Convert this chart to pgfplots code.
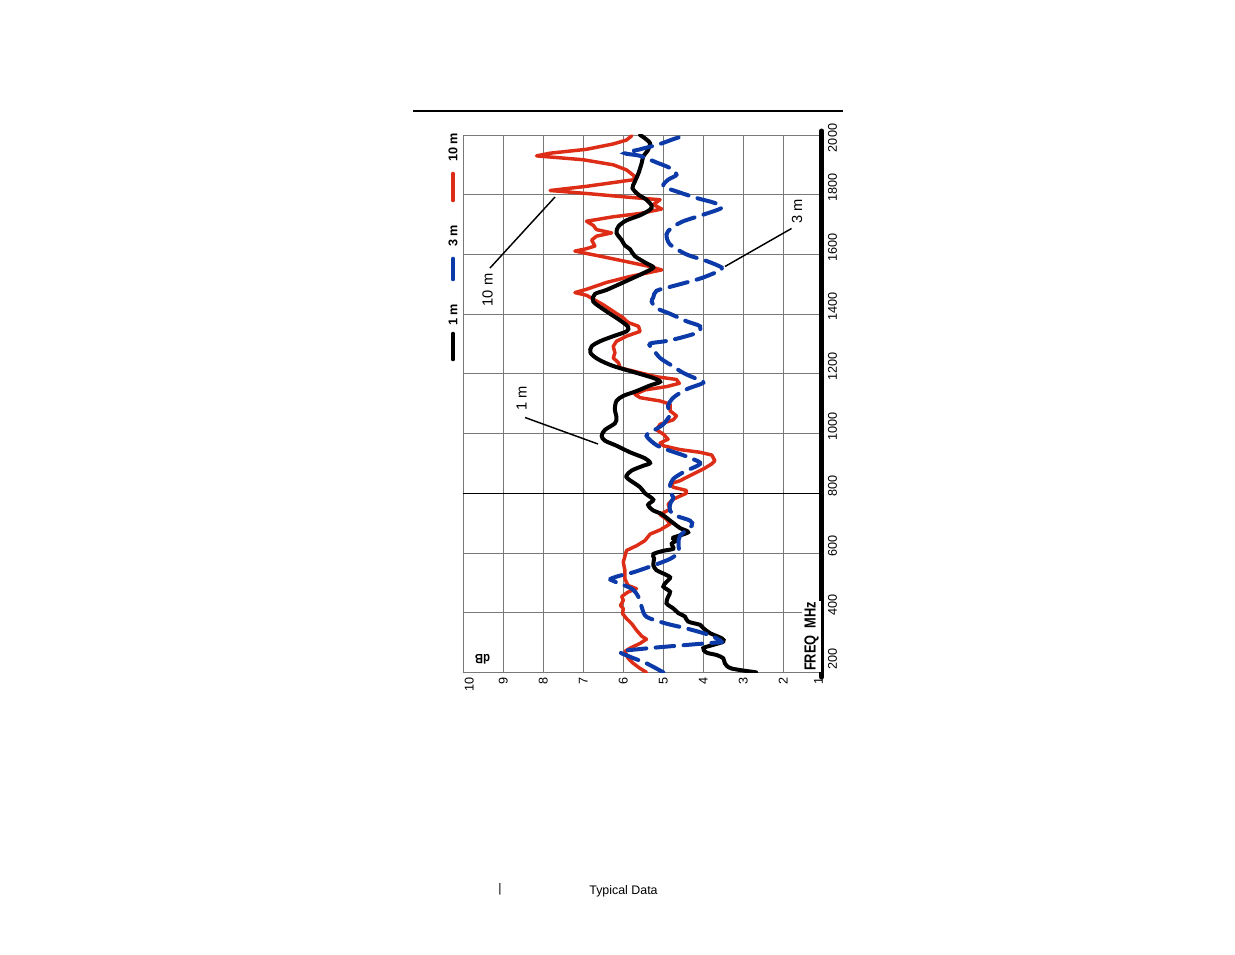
\documentclass[border=0pt]{standalone}
\usepackage{fontspec}
\setmainfont{Liberation Sans}
\usepackage{pgfplots}
\usepackage{pgfplotstable}
\pgfplotsset{compat=1.18}

\definecolor{tenm}{RGB}{222,45,22}
\definecolor{threem}{RGB}{12,58,168}
\definecolor{gridgray}{RGB}{120,120,120}

% f = frequency (MHz), d = level (dB)
\pgfplotstableread{
f d
200 2.68
213 3.30
230 3.46
247 3.50
258 3.67
266 3.92
281 4.00
292 3.75
303 3.50
314 3.54
331 3.83
348 4.00
359 4.08
370 4.38
387 4.46
398 4.62
414 4.75
431 4.92
453 4.88
470 4.83
487 5.00
503 4.92
518 4.83
531 5.00
542 5.17
559 5.25
581 5.23
596 5.25
607 5.00
614 4.75
631 4.79
642 4.67
651 4.75
669 4.38
683 4.58
700 4.75
722 4.96
733 5.08
742 5.25
761 5.38
778 5.25
800 5.46
820 5.58
848 5.88
859 5.92
876 5.79
892 5.50
901 5.33
917 5.46
937 5.83
959 6.17
976 6.46
992 6.54
1012 6.46
1034 6.21
1053 6.17
1081 6.21
1109 6.17
1126 6.00
1142 5.67
1161 5.33
1173 5.08
1186 5.25
1203 5.67
1226 6.25
1248 6.62
1270 6.82
1292 6.79
1309 6.58
1326 6.25
1342 5.92
1357 5.88
1379 6.08
1409 6.42
1442 6.75
1467 6.71
1481 6.42
1511 5.92
1537 5.50
1556 5.25
1570 5.42
1594 5.71
1617 5.83
1630 5.96
1648 6.04
1672 6.17
1694 6.12
1714 5.92
1731 5.58
1750 5.33
1763 5.29
1783 5.42
1800 5.62
1822 5.77
1844 5.71
1872 5.62
1906 5.54
1928 5.50
1950 5.38
1972 5.33
1989 5.46
2000 5.58
}\onem

\pgfplotstableread{
f d
200 5.00
230 5.42
252 5.83
269 6.08
278 5.58
288 4.75
299 3.75
302 3.54
324 3.83
347 4.42
363 4.92
386 5.42
419 5.54
452 5.62
480 5.79
506 6.25
513 6.32
524 6.08
535 5.75
558 5.25
580 4.83
602 4.62
630 4.62
658 4.58
691 4.29
708 4.33
724 4.67
741 4.83
763 4.83
786 4.75
803 4.83
826 4.83
848 4.75
870 4.50
898 4.08
914 4.25
931 4.58
942 4.83
961 5.17
992 5.42
1009 5.25
1031 5.00
1064 4.83
1092 4.88
1120 4.75
1148 4.42
1170 4.00
1183 4.17
1203 4.50
1231 4.83
1253 5.08
1281 5.25
1301 5.33
1312 4.83
1337 4.17
1359 4.08
1376 4.42
1401 4.83
1420 5.17
1442 5.29
1456 5.25
1478 5.17
1494 4.75
1519 4.08
1544 3.62
1556 3.54
1578 3.92
1600 4.42
1633 4.83
1667 4.92
1689 4.79
1711 4.50
1733 4.00
1756 3.54
1772 3.71
1789 4.17
1811 4.67
1828 5.00
1850 4.88
1867 4.67
1889 4.83
1908 5.17
1930 5.58
1939 5.96
1952 5.58
1970 5.08
1986 4.75
2000 4.42
}\threem

\pgfplotstableread{
f d
200 5.42
213 5.58
230 5.75
247 5.88
270 5.96
281 5.83
297 5.58
311 5.42
321 5.54
341 5.67
363 5.79
380 5.92
397 6.02
413 6.00
424 6.07
441 6.00
454 6.04
469 5.88
480 5.67
491 5.88
513 5.96
541 5.96
569 6.00
608 5.92
624 5.67
641 5.46
663 5.33
677 5.08
697 4.83
713 4.92
728 5.08
747 4.83
763 4.88
780 4.75
800 4.42
809 4.42
820 4.75
831 4.83
842 4.58
859 4.33
881 4.00
898 3.79
909 3.71
928 3.79
937 4.08
946 4.58
959 5.00
968 5.08
981 4.88
998 5.00
1012 5.17
1031 5.08
1046 4.75
1059 4.67
1076 4.83
1098 4.83
1109 5.08
1120 5.58
1131 5.71
1146 5.46
1157 4.92
1168 4.60
1181 4.67
1190 5.17
1209 5.75
1220 6.08
1237 6.12
1253 6.25
1270 6.21
1292 6.25
1309 6.17
1326 5.92
1342 5.58
1359 5.62
1372 5.88
1387 6.00
1409 6.25
1431 6.50
1444 6.67
1463 6.92
1472 7.21
1483 6.92
1506 6.42
1526 5.83
1548 5.04
1559 5.33
1578 6.00
1594 6.58
1611 7.21
1619 6.92
1628 6.71
1648 6.79
1661 6.67
1672 6.29
1683 6.67
1697 6.75
1711 6.92
1726 6.25
1737 5.58
1752 5.04
1767 5.25
1783 5.08
1792 5.92
1803 6.83
1814 7.83
1828 6.92
1850 5.75
1861 5.71
1883 5.92
1900 6.25
1917 7.00
1930 8.17
1939 7.83
1952 6.92
1970 6.25
1983 5.92
1997 5.79
}\tenm

\begin{document}
\begin{tikzpicture}
\begin{scope}[x=0.75pt,y=-0.75pt]
  \path[use as bounding box] (0,0) rectangle (1235,954);
\end{scope}

\begin{axis}[
  at={(347.475pt,-504.225pt)}, anchor=south west,
  width=270pt, height=403pt, scale only axis,
  xmin=1, xmax=10, x dir=reverse,
  ymin=200, ymax=2000,
  xtick={1,2,...,10}, ytick={200,400,...,2000},
  xticklabels={\raisebox{0pt}[\height][\dimexpr\depth+7pt\relax]{1},2,3,4,5,6,7,8,9,\raisebox{0pt}[\dimexpr\height+9pt\relax][\depth]{10}},
  yticklabels={\hspace*{9pt}200,400,600,800,1000,1200,1400,1600,1800,2000\hspace*{15.5pt}},
  grid=major,
  major grid style={draw=gridgray, line width=0.6pt},
  axis line style={draw=gridgray, line width=0.6pt},
  tick style={draw=none},
  yticklabel pos=right,
  xticklabel style={rotate=90, anchor=east, font=\fontsize{9.5}{10}\selectfont},
  yticklabel style={rotate=90, anchor=north, xshift=5.5pt, font=\fontsize{9.5}{10}\selectfont},
  extra y ticks={800}, extra y tick labels={},
  extra y tick style={grid=major, major grid style={draw=black, line width=0.8pt}},
]
\addplot[tenm, line width=2.6pt, line join=round, line cap=round] table[x=d,y=f] {\tenm};
\addplot[black, line width=3pt, smooth, tension=0.5, line cap=round] table[x=d,y=f] {\onem};
\addplot[threem, line width=3pt, smooth, tension=0.5, line cap=round, dash pattern=on 14pt off 7pt] table[x=d,y=f] {\threem};
\end{axis}

\begin{scope}[x=0.75pt,y=-0.75pt]
  % frequency axis bar
  \draw[line width=3.75pt, line cap=round] (821.7,131) -- (821.7,677);
  \node[rotate=90, xscale=0.8, fill=white, inner xsep=1pt, inner ysep=2pt, font=\bfseries\fontsize{12}{12}\selectfont] at (811.5,636.5) {FREQ\ \ MHz};
  \node[rotate=180, xscale=0.85, font=\bfseries\fontsize{10}{10}\selectfont] at (482.5,659) {dB};
  % legend
  \node[rotate=90, font=\bfseries\fontsize{9.5}{10}\selectfont] at (453,147.5) {10 m};
  \draw[tenm, line width=3.5pt, line cap=round] (453,174) -- (453,200);
  \node[rotate=90, font=\bfseries\fontsize{9.5}{10}\selectfont] at (453,236) {3 m};
  \draw[threem, line width=3.5pt, line cap=round] (453,259) -- (453,279);
  \node[rotate=90, font=\bfseries\fontsize{9.5}{10}\selectfont] at (453,315) {1 m};
  \draw[black, line width=3.5pt, line cap=round] (453,334) -- (453,359);
  % callouts
  \draw[line width=1.1pt] (490,268) -- (555,197);
  \node[rotate=90, font=\fontsize{11}{12}\selectfont] at (487.5,290) {10 m};
  \draw[line width=1.1pt] (725,266.5) -- (791.5,228.5);
  \node[rotate=90, font=\fontsize{11}{12}\selectfont] at (797,211.5) {3 m};
  \draw[line width=1.1pt] (525,417.5) -- (598,444);
  \node[rotate=90, font=\fontsize{11}{12}\selectfont] at (521.5,398.5) {1 m};
  % page furniture
  \draw[line width=0.8pt] (413,111) -- (843,111);
  \node[font=\fontsize{9.3}{11}\selectfont] at (500,889) {|};
  \node[font=\fontsize{9.3}{11}\selectfont] at (623.5,891) {Typical Data};
\end{scope}
\end{tikzpicture}
\end{document}
